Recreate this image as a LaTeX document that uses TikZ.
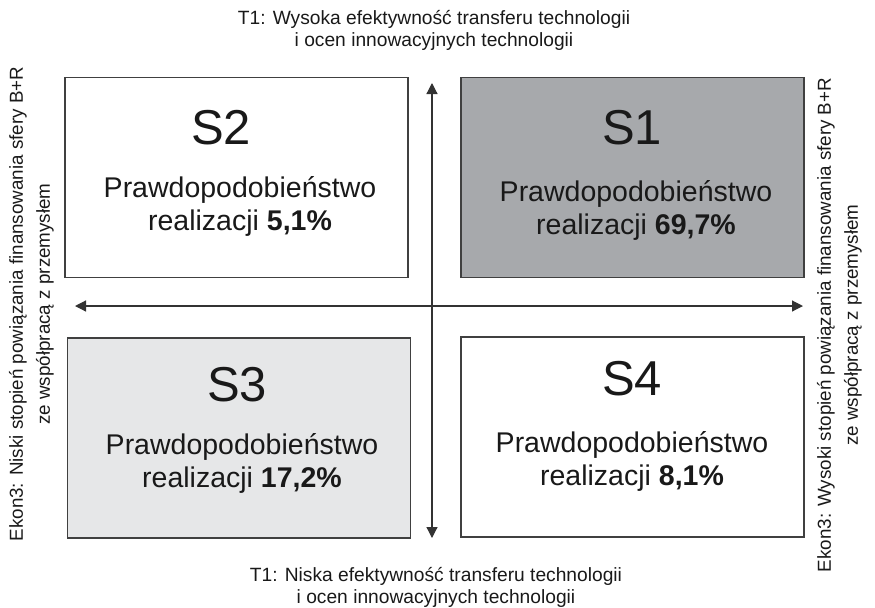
\documentclass[tikz,border=0pt]{standalone}
\usepackage{fontspec}
\setmainfont{Liberation Sans}
\usetikzlibrary{arrows.meta}
\colorlet{framecolor}{black!75}
\colorlet{inkcolor}{black!90}
\definecolor{highfill}{HTML}{A7A9AC}
\definecolor{lowfill}{HTML}{E6E7E8}
\tikzset{
    % --- boxes of the four scenarios ---
    quadbox/.style={draw=framecolor, line width=0.7pt, minimum width=171.5pt,
                    minimum height=100pt, inner sep=0pt},
    quadname/.style={font=\fontsize{24.5}{28}\selectfont, text=inkcolor},
    probtext/.style={align=center, font=\fontsize{14.25}{16.5}\selectfont, text=inkcolor},
    % --- axes and their texts ---
    sidetext/.style={align=center, rotate=90, font=\fontsize{9.4}{13.5}\selectfont, text=inkcolor},
    titletext/.style={align=center, font=\fontsize{9.6}{11}\selectfont, text=inkcolor},
    axis/.style={draw=black!80, line width=0.6pt,
                 {Triangle[length=5.5pt,width=5.5pt]}-{Triangle[length=5.5pt,width=5.5pt]}}
}

\begin{document}
\begin{tikzpicture}[x=0.5pt,y=-0.5pt]
    \useasboundingbox (0,0) rectangle (875,607);

    % scenario boxes
    \node[quadbox] (s2) at (236.5,177.5) {};
    \node[quadbox, fill=highfill] (s1) at (632.5,177.5) {};
    \node[quadbox, fill=lowfill] (s3) at (239,438) {};
    \node[quadbox] (s4) at (632.5,437) {};

    \node[quadname] (s2name) at (221,128) {S2};
    \node[quadname] (s1name) at (632,128) {S1};
    \node[quadname] (s3name) at (237,385) {S3};
    \node[quadname] (s4name) at (632,379) {S4};

    \node[probtext] (s2prob) at (240,206) {Prawdopodobieństwo\\realizacji \textbf{5,1\%}};
    \node[probtext] (s1prob) at (636,210) {Prawdopodobieństwo\\realizacji \textbf{69,7\%}};
    \node[probtext] (s3prob) at (242,463) {Prawdopodobieństwo\\realizacji \textbf{17,2\%}};
    \node[probtext] (s4prob) at (632,461) {Prawdopodobieństwo\\realizacji \textbf{8,1\%}};

    % axes
    \coordinate (vtop) at (432,83);
    \coordinate (vbot) at (432,538);
    \coordinate (hleft) at (75,306);
    \coordinate (hright) at (803,306);
    \draw[axis] (vbot) -- (vtop);
    \draw[axis] (hleft) -- (hright);

    \node[titletext] (ttop) at (434,30)
        {T1: Wysoka efektywność transferu technologii\\i ocen innowacyjnych technologii};
    \node[titletext] (tbot) at (436,587)
        {T1: Niska efektywność transferu technologii\\i ocen innowacyjnych technologii};
    \node[sidetext] (eleft) at (31.5,304)
        {Ekon3: Niski stopień powiązania finansowania sfery B+R\\ze współpracą z przemysłem};
    \node[sidetext] (eright) at (839.5,325)
        {Ekon3: Wysoki stopień powiązania finansowania sfery B+R\\ze współpracą z przemysłem};
\end{tikzpicture}
\end{document}
